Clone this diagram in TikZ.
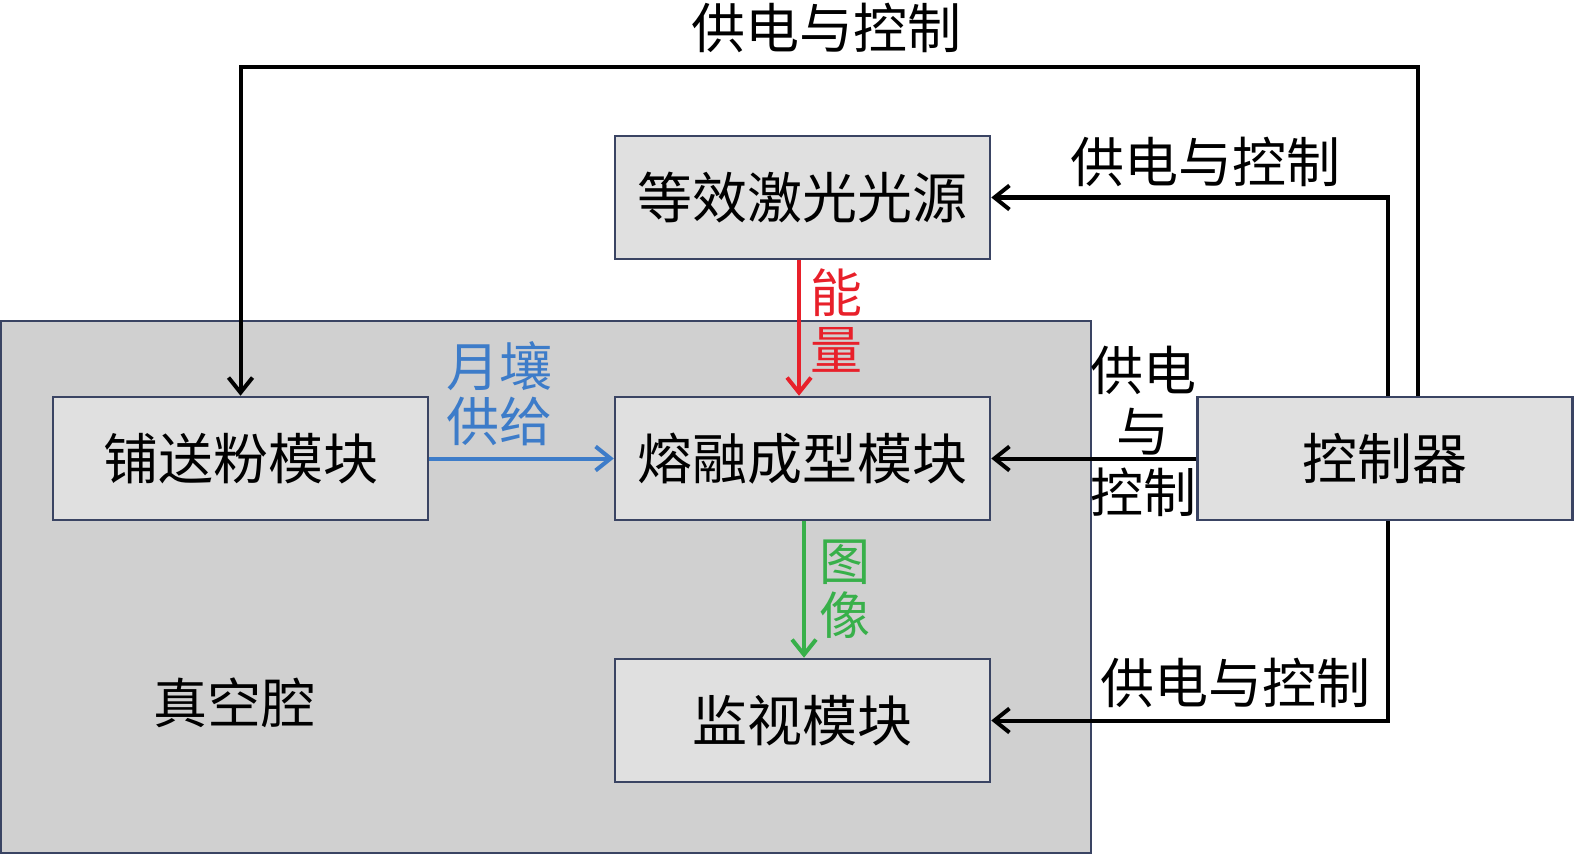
\documentclass[tikz,border=0pt]{standalone}
\usepackage{fontspec}
\newfontfamily\cjk{Noto Sans CJK SC}
\usetikzlibrary{arrows.meta}
\definecolor{boxfill}{HTML}{E0E0E0}
\definecolor{chamberfill}{HTML}{D0D0D0}
\definecolor{boxline}{HTML}{3A4463}
\definecolor{redc}{HTML}{E8202A}
\definecolor{greenc}{HTML}{38B04A}
\definecolor{bluec}{HTML}{3D7CC9}
\begin{document}
\begin{tikzpicture}[x=1pt,y=-1pt,
  modbox/.style={draw=boxline,fill=boxfill,line width=2.5pt,minimum width=375pt,minimum height=123pt,inner sep=0pt,font=\cjk\fontsize{55}{60}\selectfont},
  lbl/.style={inner sep=0pt,align=center,font=\cjk\fontsize{54}{60}\selectfont},
  conn/.style={line width=4pt,-{Straight Barb[length=15pt,width=24pt,line width=4pt]}}]
\useasboundingbox (0,0) rectangle (1575,856);
\node[draw=boxline,fill=chamberfill,line width=2.5pt,inner sep=0pt,minimum width=1090pt,minimum height=532pt] (chamber) at (546,587) {};
\node[modbox] (pow) at (240.5,458.5) {铺送粉模块};
\node[modbox] (laser) at (802.5,197.5) {等效激光光源};
\node[modbox] (melt) at (802.5,458.5) {熔融成型模块};
\node[modbox] (mon) at (802.5,720.5) {监视模块};
\node[modbox] (ctrl) at (1385,458.5) {控制器};
\node[lbl,font=\cjk\fontsize{54}{60}\selectfont] (vac) at (234,703) {真空腔};
% connectors
\coordinate (t1) at (1418,67);
\coordinate (t2) at (240.5,67);
\draw[conn] (ctrl.north -| t1) -- (t1) -- (t2) -- (pow.north);
\coordinate (l1) at (1388,197.5);
\draw[conn] (ctrl.north -| l1) -- (l1) -- (laser.east);
\draw[conn] (ctrl.west) -- (melt.east);
\coordinate (m1) at (1388,720.5);
\draw[conn] (ctrl.south -| m1) -- (m1) -- (mon.east);
\coordinate (rx) at (799,0);
\draw[conn,redc] (laser.south -| rx) -- (melt.north -| rx);
\coordinate (gx) at (804,0);
\draw[conn,greenc] (melt.south -| gx) -- (mon.north -| gx);
\draw[conn,bluec] (pow.east) -- (melt.west);
% labels
\node[lbl] (lt) at (826,28) {供电与控制};
\node[lbl] (ll) at (1205,162) {供电与控制};
\node[lbl] (lm) at (1235,683) {供电与控制};
\node[lbl,font=\cjk\fontsize{53}{61}\selectfont] (lc) at (1143,431) {供电\\与\\控制};
\node[lbl,text=redc,font=\cjk\fontsize{52}{57}\selectfont] (le) at (836,321) {能\\量};
\node[lbl,text=greenc,font=\cjk\fontsize{51}{54}\selectfont] (li) at (845,589) {图\\像};
\node[lbl,text=bluec,font=\cjk\fontsize{53}{55}\selectfont] (lb) at (499,394) {月壤\\供给};
\end{tikzpicture}
\end{document}
